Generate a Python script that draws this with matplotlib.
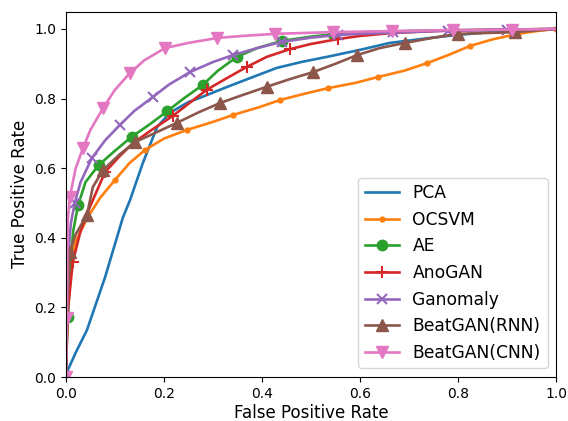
import matplotlib
matplotlib.use("Agg")
import matplotlib.pyplot as plt

# ---- data ----
pca_fpr = [0, 0.004, 0.02, 0.043, 0.08, 0.116, 0.131, 0.157, 0.186, 0.212, 0.25, 0.273, 0.328, 0.376, 0.43, 0.48, 0.533, 0.6, 0.661, 0.73, 0.798, 0.86, 0.92, 1.0]
pca_tpr = [0, 0.02, 0.07, 0.135, 0.287, 0.457, 0.509, 0.615, 0.718, 0.759, 0.79, 0.802, 0.833, 0.859, 0.888, 0.905, 0.92, 0.94, 0.96, 0.972, 0.983, 0.99, 0.994, 1.0]

ocsvm_fpr = [0, 0.002, 0.008, 0.02, 0.045, 0.07, 0.1, 0.13, 0.161, 0.2, 0.247, 0.3, 0.341, 0.396, 0.437, 0.49, 0.535, 0.59, 0.637, 0.69, 0.737, 0.78, 0.824, 0.87, 0.922, 0.96, 1.0]
ocsvm_tpr = [0, 0.17, 0.316, 0.39, 0.46, 0.515, 0.566, 0.615, 0.652, 0.685, 0.71, 0.733, 0.753, 0.776, 0.796, 0.815, 0.83, 0.845, 0.862, 0.88, 0.902, 0.925, 0.951, 0.97, 0.986, 0.994, 1.0]
ocsvm_marks = [0, 4, 6, 8, 10, 12, 14, 16, 18, 20, 22, 24, 26]

ae_fpr = [0, 0.002, 0.004, 0.01, 0.015, 0.025, 0.04, 0.067, 0.1, 0.134, 0.17, 0.207, 0.24, 0.279, 0.31, 0.349, 0.39, 0.441, 0.5, 0.545, 0.6, 0.66, 0.77, 0.88, 1.0]
ae_tpr = [0, 0.1, 0.172, 0.34, 0.42, 0.494, 0.56, 0.609, 0.65, 0.69, 0.725, 0.764, 0.80, 0.839, 0.88, 0.92, 0.945, 0.966, 0.978, 0.985, 0.99, 0.993, 0.996, 0.998, 1.0]
ae_marks = [2, 5, 7, 9, 11, 13, 15, 17, 19]

anogan_fpr = [0, 0.002, 0.004, 0.014, 0.03, 0.049, 0.08, 0.11, 0.137, 0.175, 0.218, 0.25, 0.287, 0.33, 0.369, 0.41, 0.457, 0.5, 0.555, 0.6, 0.66, 0.77, 0.88, 1.0]
anogan_tpr = [0, 0.1, 0.19, 0.33, 0.42, 0.489, 0.589, 0.635, 0.672, 0.71, 0.75, 0.785, 0.825, 0.86, 0.891, 0.92, 0.942, 0.957, 0.971, 0.98, 0.988, 0.995, 0.998, 1.0]
anogan_marks = [3, 6, 10, 12, 14, 16, 18]

gan_fpr = [0, 0.002, 0.005, 0.01, 0.018, 0.03, 0.053, 0.08, 0.11, 0.14, 0.178, 0.21, 0.253, 0.3, 0.341, 0.39, 0.441, 0.5, 0.555, 0.667, 0.78, 0.9, 1.0]
gan_tpr = [0, 0.2, 0.35, 0.44, 0.5, 0.56, 0.629, 0.68, 0.724, 0.765, 0.805, 0.84, 0.876, 0.905, 0.925, 0.945, 0.963, 0.975, 0.983, 0.99, 0.995, 0.998, 1.0]
gan_marks = [0, 4, 6, 8, 10, 12, 14, 16, 18, 19, 20, 21]

rnn_fpr = [0, 0.002, 0.008, 0.02, 0.043, 0.055, 0.076, 0.11, 0.141, 0.18, 0.226, 0.27, 0.314, 0.36, 0.41, 0.455, 0.504, 0.55, 0.594, 0.64, 0.692, 0.75, 0.8, 0.916, 1.0]
rnn_tpr = [0, 0.17, 0.36, 0.41, 0.466, 0.546, 0.595, 0.64, 0.675, 0.70, 0.73, 0.76, 0.787, 0.81, 0.834, 0.855, 0.876, 0.9, 0.925, 0.945, 0.96, 0.975, 0.986, 0.991, 1.0]
rnn_marks = [2, 4, 6, 8, 10, 12, 14, 16, 18, 20, 22, 23]

cnn_fpr = [0, 0.002, 0.003, 0.004, 0.008, 0.02, 0.035, 0.05, 0.076, 0.1, 0.131, 0.16, 0.202, 0.25, 0.308, 0.36, 0.427, 0.545, 0.665, 0.79, 0.91, 1.0]
cnn_tpr = [0, 0.17, 0.356, 0.45, 0.517, 0.6, 0.658, 0.71, 0.773, 0.825, 0.874, 0.91, 0.945, 0.96, 0.974, 0.98, 0.986, 0.991, 0.994, 0.997, 0.998, 1.0]
cnn_marks = [0, 1, 4, 6, 8, 10, 12, 14, 16, 17, 18, 19, 20]

fig = plt.figure(figsize=(5.68, 4.21), dpi=100)
ax = fig.add_axes([0.116, 0.1045, 0.863, 0.868])

lw = 1.9
ax.plot(pca_fpr, pca_tpr, color='#1f77b4', lw=lw, label='PCA')
ax.plot(ocsvm_fpr, ocsvm_tpr, color='#ff7f0e', lw=lw, marker='.', ms=7, markevery=ocsvm_marks, label='OCSVM')
ax.plot(ae_fpr, ae_tpr, color='#2ca02c', lw=lw, marker='o', ms=7.5, markevery=ae_marks, label='AE')
ax.plot(anogan_fpr, anogan_tpr, color='#d62728', lw=lw, marker='+', ms=8, mew=1.5, markevery=anogan_marks, label='AnoGAN')
ax.plot(gan_fpr, gan_tpr, color='#9467bd', lw=lw, marker='x', ms=7, mew=1.5, markevery=gan_marks, label='Ganomaly')
ax.plot(rnn_fpr, rnn_tpr, color='#8c564b', lw=lw, marker='^', ms=8, markevery=rnn_marks, label='BeatGAN(RNN)')
ax.plot(cnn_fpr, cnn_tpr, color='#e377c2', lw=lw, marker='v', ms=8, markevery=cnn_marks, label='BeatGAN(CNN)')

ax.set_xlim(0, 1.0)
ax.set_ylim(0, 1.05)
ax.set_xticks([0, 0.2, 0.4, 0.6, 0.8, 1.0])
ax.set_yticks([0, 0.2, 0.4, 0.6, 0.8, 1.0])
ax.tick_params(labelsize=10)
ax.set_xlabel('False Positive Rate', fontsize=12, labelpad=2)
ax.set_ylabel('True Positive Rate', fontsize=12, labelpad=4)
ax.legend(loc='lower right', fontsize=12.3)

fig.savefig('out.png', dpi=100)
